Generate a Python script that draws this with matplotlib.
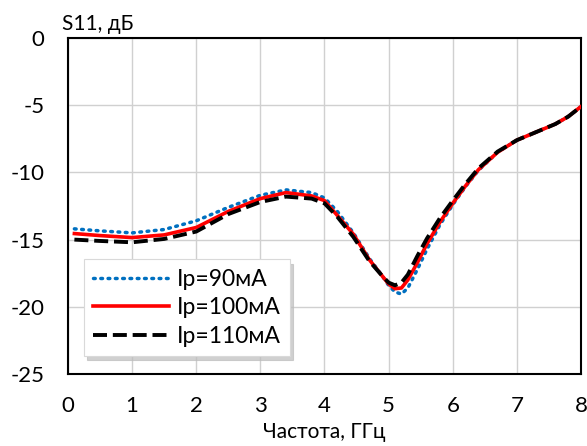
import matplotlib.pyplot as plt

plt.rcParams['font.family'] = ['Lato', 'DejaVu Sans']
plt.rcParams['axes.unicode_minus'] = False

# frequency, GHz
freq = [0.1, 0.5, 1.0, 1.5, 2.0, 2.5, 3.0, 3.4, 3.8, 4.0, 4.2, 4.45, 4.7, 4.9, 5.0,
        5.1, 5.2, 5.3, 5.45, 5.6, 5.8, 6.0, 6.2, 6.4, 6.7, 7.0, 7.3, 7.6, 7.8, 8.0]

# S11, dB
s11_90 = [-14.2, -14.35, -14.5, -14.25, -13.6, -12.6, -11.7, -11.3, -11.5, -11.9, -12.9,
          -14.5, -16.4, -17.7, -18.4, -18.9, -19.05, -18.6, -17.2, -15.7, -13.9, -12.4,
          -11.05, -9.85, -8.5, -7.6, -7.0, -6.4, -5.85, -5.1]
s11_100 = [-14.55, -14.7, -14.85, -14.65, -14.1, -12.9, -11.95, -11.5, -11.75, -12.1, -13.2,
           -14.6, -16.5, -17.7, -18.3, -18.65, -18.6, -18.0, -16.7, -15.3, -13.7, -12.3,
           -11.0, -9.8, -8.5, -7.6, -7.0, -6.4, -5.85, -5.1]
s11_110 = [-15.0, -15.1, -15.2, -14.95, -14.4, -13.1, -12.2, -11.8, -11.95, -12.3, -13.3,
           -14.8, -16.6, -17.7, -18.2, -18.4, -18.2, -17.6, -16.2, -14.9, -13.4, -12.1,
           -10.85, -9.7, -8.45, -7.6, -7.0, -6.4, -5.85, -5.1]

labels = ['Ip=90мА', 'Ip=100мА', 'Ip=110мА']

fig = plt.figure(figsize=(5.87, 4.46), dpi=100)
ax = fig.add_axes([0.1158, 0.1614, 0.874, 0.7534])

ax.plot(freq, s11_90, color='#0070c0', lw=2.5, ls=(0, (0.5, 1.6)),
        dash_capstyle='round', label=labels[0], zorder=3)
ax.plot(freq, s11_100, color='#ff0000', lw=2.6, label=labels[1], zorder=4)
ax.plot(freq, s11_110, color='black', lw=2.8, ls=(0, (3.6, 1.5)),
        label=labels[2], zorder=5)

ax.set_xlim(0, 8)
ax.set_ylim(-25, 0)
ax.set_xticks(range(0, 9))
ax.set_yticks(range(-25, 1, 5))
ax.grid(True, color='#d0d0d0', lw=1)
ax.set_axisbelow(True)
ax.tick_params(length=0, labelsize=16)
ax.tick_params(axis='y', pad=17)
ax.tick_params(axis='x', pad=16)
for sp in ax.spines.values():
    sp.set_linewidth(1.5)
    sp.set_color('black')

ax.set_xlabel('Частота, ГГц', fontsize=15, labelpad=4)
fig.text(0.1056, 0.933, 'S11, дБ', fontsize=15, ha='left', va='baseline')

leg = ax.legend(loc='lower left', bbox_to_anchor=(0.031, 0.054), borderaxespad=0,
                fontsize=16.5, handlelength=3.3, handletextpad=0.35, borderpad=0.4,
                labelspacing=0.33, fancybox=False, framealpha=1,
                edgecolor='#d9d9d9',
                shadow={'ox': 2, 'oy': -3, 'color': '#bdbdbd', 'alpha': 0.7})
leg.get_frame().set_linewidth(0.8)

fig.savefig('out.png', dpi=100)
